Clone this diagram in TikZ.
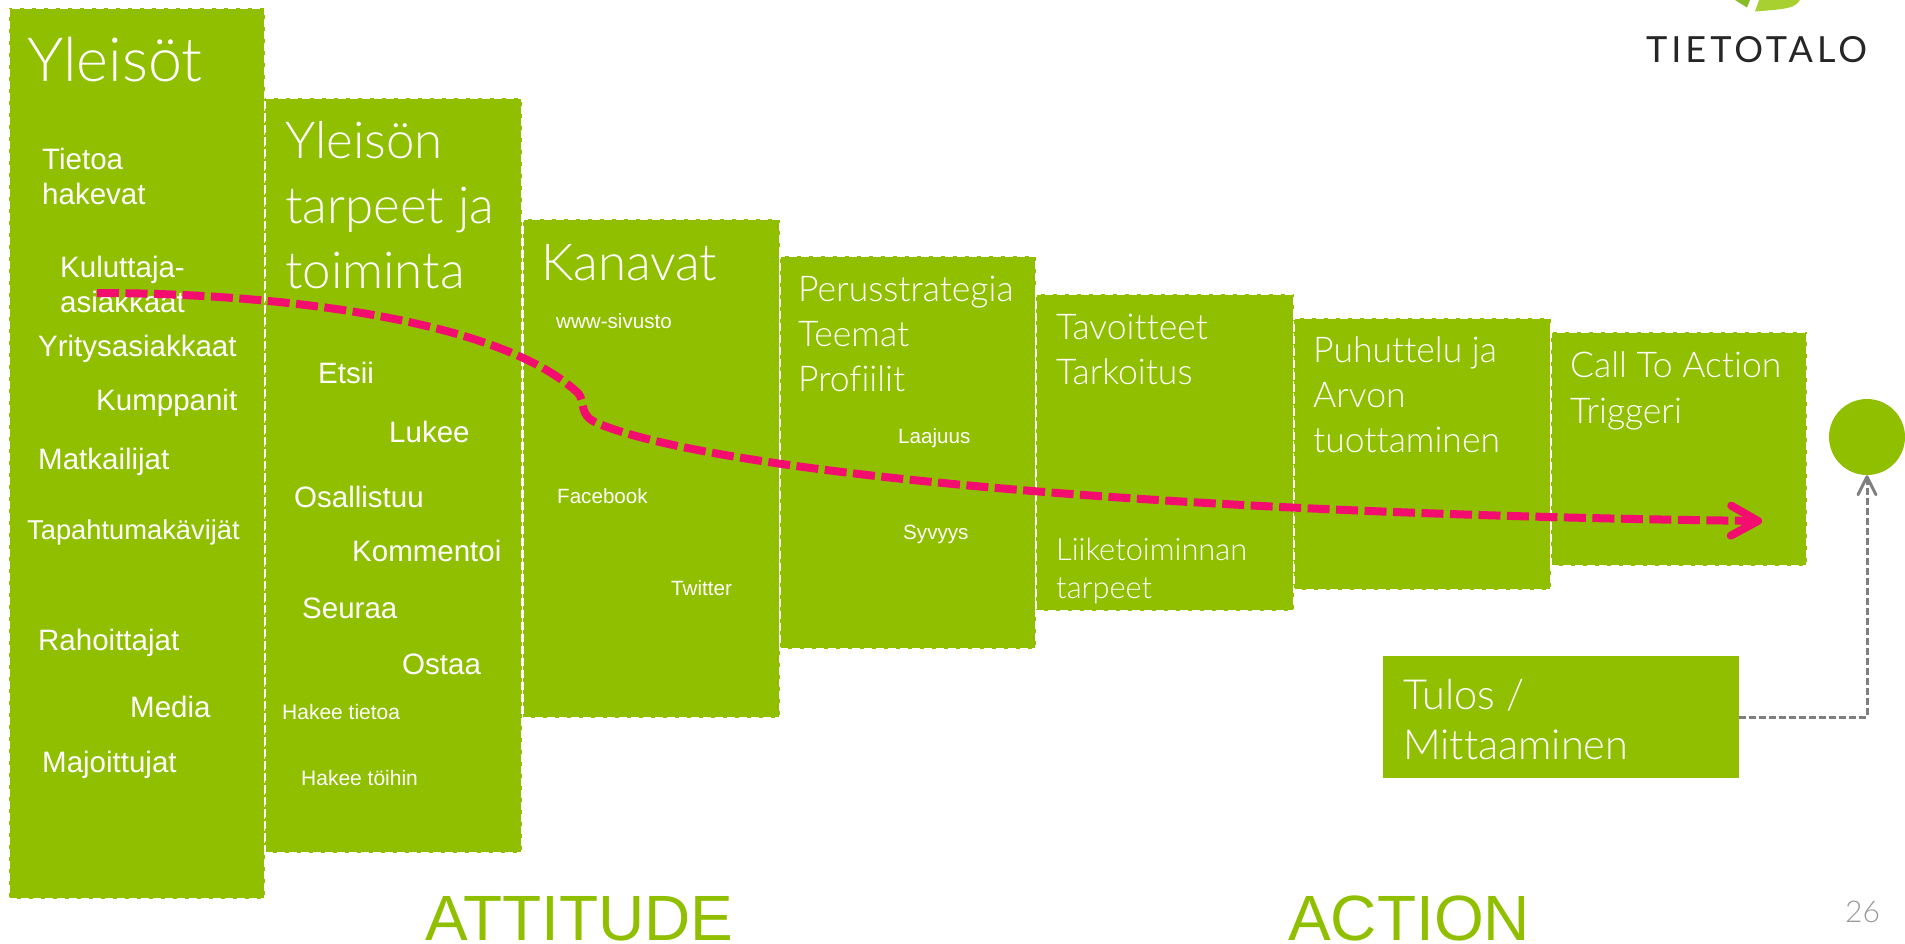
\documentclass[tikz,border=0pt]{standalone}
\usepackage{fontspec}
\setmainfont{Liberation Sans}
\newfontfamily\lightf[Ligatures=NoCommon]{Lato Light}
\newfontfamily\logof[LetterSpace=11]{Lato}
\usetikzlibrary{arrows.meta,calc}
\definecolor{tgreen}{HTML}{90BF00}
\definecolor{tpink}{HTML}{F20D6F}
\definecolor{tgray}{HTML}{7F7F7F}
\definecolor{leafa}{HTML}{86BC25}
\definecolor{leafb}{HTML}{A8D030}
\newcommand{\fs}[1]{\fontsize{#1}{#1}\selectfont}
\tikzset{
 stagebox/.style={fill=tgreen,draw=white,line width=1.8pt,dash pattern=on 8pt off 4pt,inner sep=0,anchor=north west},
 title/.style={text=white,inner sep=0,anchor=base west,align=left},
 midt/.style={title,font=\lightf\fs{35.5}},
 lab/.style={text=white,inner sep=0,anchor=base west,align=left,font=\fs{29.5}},
 smallab/.style={text=white,inner sep=0,anchor=base west,font=\fs{20.6}},
 head/.style={text=tgreen,inner sep=0,anchor=base west,font=\fs{64}},
}
\newcommand{\stage}[5]{\node[stagebox,minimum width=#3pt-#2pt,minimum height=#5pt-#4pt] (#1) at (#2,#4) {};}
\begin{document}
\begin{tikzpicture}[x=1pt,y=-1pt]
\useasboundingbox (0,0) rectangle (1905,943);
\stage{b1}{8}{264}{7}{898}
\stage{b2}{264}{521}{97}{852}
\stage{b3}{522}{779}{218}{717}
\stage{b4}{779}{1035}{255}{648}
\stage{b5}{1035}{1293}{293}{610}
\stage{b6}{1293}{1550}{317}{589}
\stage{b7}{1550}{1806}{331}{565}
\node[fill=tgreen,inner sep=0,anchor=north west,minimum width=356pt,minimum height=122pt] (tulos) at (1383,656) {};
\node[circle,fill=tgreen,inner sep=0,minimum size=76pt] (goal) at (1867,437) {};
% logo
\fill[leafa] (1735,0) -- (1750,0) -- (1747,7.5) -- cycle;
\fill[leafb] (1759,0) -- (1800,0) .. controls (1795,8) and (1788,9) .. (1755,11.5) -- cycle;
\node[inner sep=0,anchor=base west,text=black!85,font=\logof\fs{36}] (logo) at (1646,62) {TIETOTALO};
% titles
\node[title,font=\lightf\fs{61}] (t1) at (27,81) {Yleisöt};
\node[title,font=\lightf\fs{51}] (t2) at (285,288) {Yleisön\\[14pt]tarpeet ja\\[14pt]toiminta};
\node[title,font=\lightf\fs{51}] (t3) at (541,280) {Kanavat};
\node[midt] (t4) at (798,391) {Perusstrategia\\[9.5pt]Teemat\\[9.5pt]Profiilit};
\node[midt] (t5) at (1056,384) {Tavoitteet\\[9.5pt]Tarkoitus};
\node[title,font=\lightf\fs{30.8}] (t5b) at (1056,598) {Liiketoiminnan\\[7.2pt]tarpeet};
\node[midt] (t6) at (1313,452) {Puhuttelu ja\\[9.5pt]Arvon\\[9.5pt]tuottaminen};
\node[midt] (t7) at (1570,423) {Call To Action\\[10.5pt]Triggeri};
\node[title,font=\lightf\fs{41.5}] (t8) at (1403,759) {Tulos /\\[8.5pt]Mittaaminen};
% audience
\node[lab] (a1) at (42,204) {Tietoa\\[5.5pt]hakevat};
\node[lab] (a2) at (60,312) {Kuluttaja-\\[5.5pt]asiakkaat};
\node[lab] (a3) at (38,356) {Yritysasiakkaat};
\node[lab] (a4) at (96,410) {Kumppanit};
\node[lab] (a5) at (38,469) {Matkailijat};
\node[lab,font=\fs{27.3}] (a6) at (27,539) {Tapahtumakävijät};
\node[lab] (a7) at (38,650) {Rahoittajat};
\node[lab] (a8) at (130,717) {Media};
\node[lab] (a9) at (42,772) {Majoittujat};
% needs
\node[lab] (n1) at (318,383) {Etsii};
\node[lab] (n2) at (389,442) {Lukee};
\node[lab] (n3) at (294,507) {Osallistuu};
\node[lab] (n4) at (352,561) {Kommentoi};
\node[lab] (n5) at (302,618) {Seuraa};
\node[lab] (n6) at (402,674) {Ostaa};
\node[smallab,font=\fs{21}] (n7) at (282,719) {Hakee tietoa};
\node[smallab,font=\fs{21}] (n8) at (301,785) {Hakee töihin};
% channels etc
\node[smallab] (c1) at (556,328) {www-sivusto};
\node[smallab] (c2) at (557,503) {Facebook};
\node[smallab] (c3) at (671,595) {Twitter};
\node[smallab] (s1) at (898,443) {Laajuus};
\node[smallab] (s2) at (903,539) {Syvyys};
% headings
\node[head] (att) at (425,940) {ATTITUDE};
\node[head] (act) at (1288,940) {ACTION};
\node[inner sep=0,anchor=base west,text=black!40,font=\lightf\fs{30}] (pg) at (1845,922) {26};
% connectors
\draw[tgray,line width=3pt,dash pattern=on 7pt off 3pt,-{Straight Barb[length=18pt,width=18pt,round,line width=3pt]}] (tulos.east) -| (goal.south);
\coordinate (ps) at (97,293);
\coordinate (pm) at (578,393);
\coordinate (pn) at (597,423);
\coordinate (pe) at (1762,521);
\draw[tpink,line width=8pt,dash pattern=on 22pt off 6.5pt,-{Straight Barb[length=27pt,width=30pt,round,line width=8pt]}]
 (ps) .. controls (280,293) and (500,320) .. (pm) .. controls (586,402) and (578,415) .. (pn) .. controls (700,467) and (1100,513) .. (pe);
\end{tikzpicture}
\end{document}
